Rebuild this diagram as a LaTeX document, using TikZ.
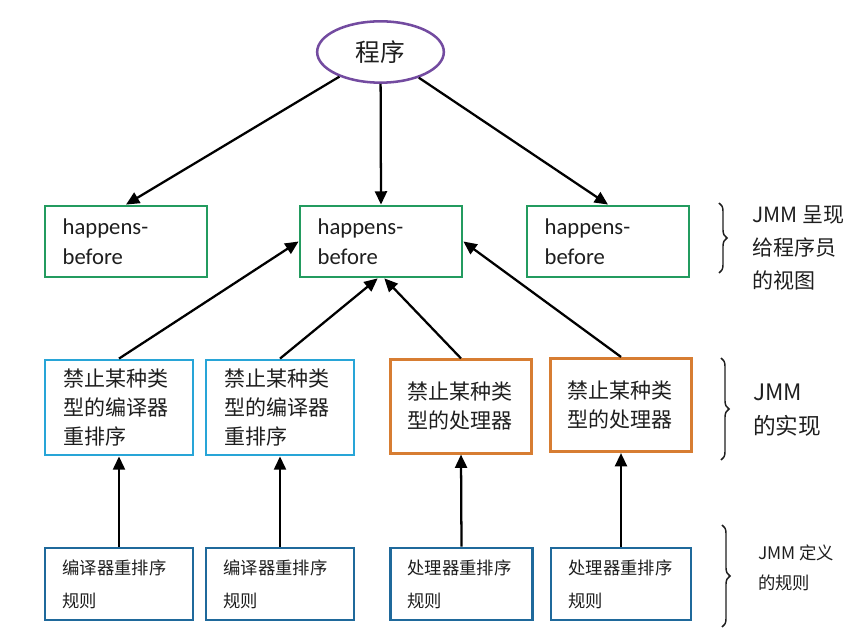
\documentclass[tikz,border=0pt]{standalone}
\usepackage{fontspec}
\setmainfont{Carlito}
\newfontfamily\cjk{Noto Sans CJK SC}
\usetikzlibrary{arrows.meta,shapes.geometric,decorations.pathreplacing}
\definecolor{progpurple}{RGB}{115,75,160}
\definecolor{hbgreen}{RGB}{35,155,95}
\definecolor{cmpblue}{RGB}{40,165,215}
\definecolor{cpuorange}{RGB}{215,125,50}
\definecolor{ruleblue}{RGB}{31,105,155}
\definecolor{txtgray}{RGB}{30,30,30}

\begin{document}
\begin{tikzpicture}[x=0.75pt,y=-0.75pt,
  progell/.style={ellipse,draw=progpurple,line width=1.9pt,minimum width=95pt,minimum height=46pt,inner sep=0pt,text=txtgray,font=\cjk\fontsize{18.5}{22}\selectfont},
  hbbox/.style={draw=hbgreen,line width=2.1pt,minimum width=121.5pt,minimum height=53.25pt,text width=95pt,inner xsep=13.25pt,inner ysep=0pt,align=left,text=txtgray,font=\fontsize{17}{22.5}\selectfont},
  cmpbox/.style={draw=cmpblue,line width=2.1pt,minimum width=111pt,minimum height=71.25pt,text width=84pt,inner xsep=13.5pt,inner ysep=0pt,align=left,text=txtgray,font=\cjk\fontsize{15.75}{21.75}\selectfont},
  cpubox/.style={draw=cpuorange,line width=2.1pt,minimum width=105.75pt,minimum height=70pt,text width=81pt,inner xsep=12.375pt,inner ysep=0pt,align=left,text=txtgray,font=\cjk\fontsize{15.75}{21.75}\selectfont},
  rulebox/.style={draw=ruleblue,line width=2.1pt,minimum height=54pt,inner xsep=13pt,inner ysep=0pt,align=left,text=txtgray,font=\cjk\fontsize{13}{24.75}\selectfont},
  bracetxt/.style={anchor=west,align=left,inner sep=0pt,text=txtgray},
  arr/.style={line width=1.7pt,-{Triangle[length=10pt,width=9pt]}},
  brc/.style={line width=1.1pt,draw=txtgray,decorate,decoration={brace,amplitude=6pt}}
]
\useasboundingbox (0,0) rectangle (868,634);

% top: the program
\node[progell] (prog) at (380.5,52) {程序};

% happens-before row
\node[hbbox] (hb1) at (126,241.5) {happens-\\before};
\node[hbbox] (hb2) at (381,241.5) {happens-\\before};
\node[hbbox] (hb3) at (608,241.5) {happens-\\before};

% reorderings forbidden by JMM
\node[cmpbox] (cmp1) at (119,407.5) {禁止某种类\\型的编译器\\重排序};
\node[cmpbox] (cmp2) at (280,407.5) {禁止某种类\\型的编译器\\重排序};
\node[cpubox] (cpu1) at (461,406.5) {禁止某种类\\型的处理器};
\node[cpubox] (cpu2) at (621,405) {禁止某种类\\型的处理器};

% reordering rules
\node[rulebox,minimum width=111pt,text width=85pt] (rule1) at (119,584) {编译器重排序\\规则};
\node[rulebox,minimum width=111pt,text width=85pt] (rule2) at (280,584) {编译器重排序\\规则};
\node[rulebox,minimum width=107pt,text width=81pt] (rule3) at (461.5,584) {处理器重排序\\规则};
\node[rulebox,minimum width=105pt,text width=79pt] (rule4) at (621,584) {处理器重排序\\规则};

% arrows
\draw[arr] (prog) -- (hb1.north);
\draw[arr] (prog) -- (hb2.north);
\draw[arr] (prog) -- (hb3.north);
\draw[arr] (cmp1.north) -- (hb2.west);
\draw[arr] (cmp2.north) -- ([xshift=-2.5pt]hb2.south);
\draw[arr] (cpu1.north) -- ([xshift=2.5pt]hb2.south);
\draw[arr] (cpu2.north) -- (hb2.east);
\draw[arr] (rule1.north) -- (cmp1.south);
\draw[arr] (rule2.north) -- (cmp2.south);
\draw[arr] (rule3.north) -- (cpu1.south);
\draw[arr] (rule4.north) -- (cpu2.south);

% braces on the right
\draw[brc] (719,203) -- (719,273);
\draw[brc] (721,358) -- (721,460);
\draw[brc] (722,525) -- (722,627);
\node[bracetxt,font=\cjk\fontsize{15.75}{24.75}\selectfont] (view) at (752,248) {JMM 呈现\\给程序员\\的视图};
\node[bracetxt,font=\cjk\fontsize{17}{26}\selectfont] (impl) at (753,410) {JMM\\的实现};
\node[bracetxt,font=\cjk\fontsize{13}{22}\selectfont] (rules) at (758,568) {JMM 定义\\的规则};
\end{tikzpicture}
\end{document}
